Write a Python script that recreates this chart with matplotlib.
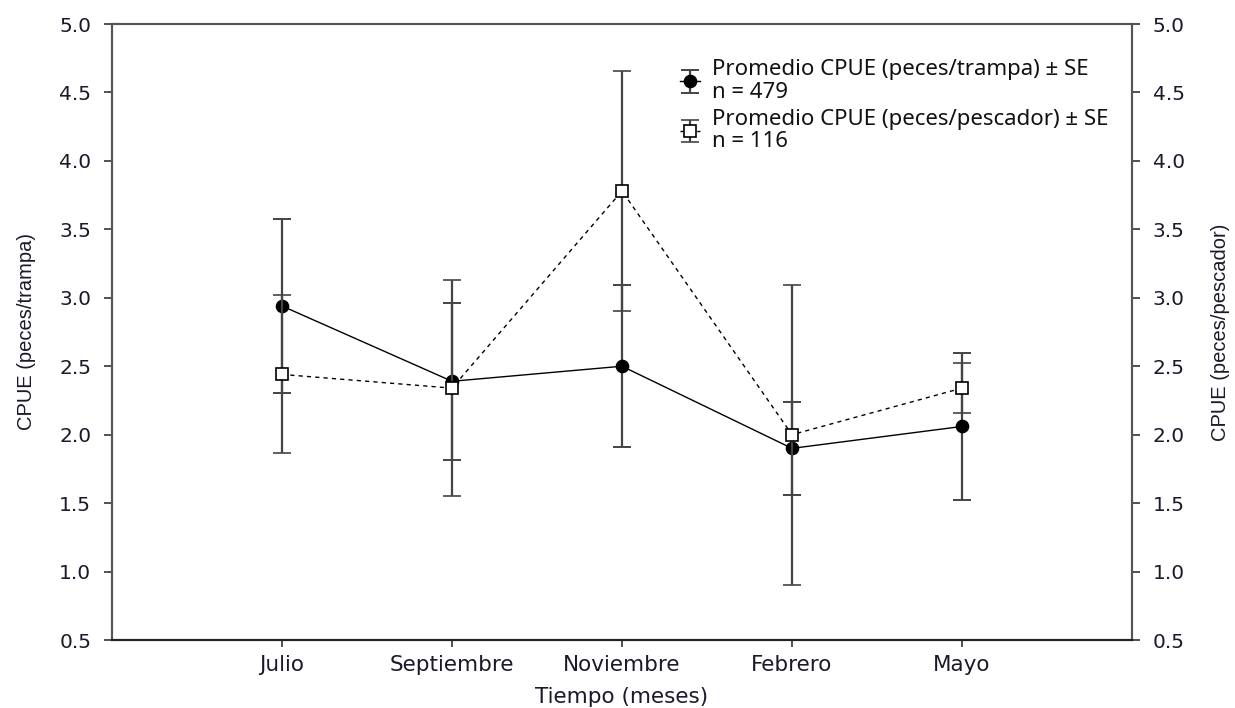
import matplotlib
matplotlib.use("Agg")
import matplotlib.pyplot as plt

months = ["Julio", "Septiembre", "Noviembre", "Febrero", "Mayo"]
trampa_mean = [2.94, 2.39, 2.50, 1.90, 2.06]
trampa_se = [0.635, 0.575, 0.59, 0.34, 0.537]
pescador_mean = [2.44, 2.34, 3.78, 2.00, 2.34]
pescador_se = [0.577, 0.79, 0.88, 1.096, 0.18]
label_trampa = "Promedio CPUE (peces/trampa) ± SE\nn = 479"
label_pescador = "Promedio CPUE (peces/pescador) ± SE\nn = 116"
yticks = [0.5, 1.0, 1.5, 2.0, 2.5, 3.0, 3.5, 4.0, 4.5, 5.0]

plt.rcParams['font.family'] = ['DejaVu Sans']

fig = plt.figure(figsize=(12.35, 7.08), dpi=100)
ax = fig.add_axes([112/1235, 1-640/708, (1132-112)/1235, (640-24)/708])
ax2 = ax.twinx()

x = list(range(1, len(months) + 1))
ecol = "#444444"
tcol = "#1a1a2a"

h1 = ax.errorbar(x, trampa_mean, yerr=trampa_se, fmt='o', color='black',
                 markersize=8.8, ls='-', lw=1.0, ecolor=ecol, elinewidth=1.6,
                 capsize=6.5, capthick=1.4, label=label_trampa, zorder=3)
h2 = ax2.errorbar(x, pescador_mean, yerr=pescador_se, fmt='s', color='black',
                  markerfacecolor='white', markeredgecolor='black', markeredgewidth=1.2,
                  markersize=8, ls=(0, (3, 3)), lw=1.0, ecolor=ecol, elinewidth=1.6,
                  capsize=6.5, capthick=1.4, label=label_pescador, zorder=3)

for a in (ax, ax2):
    a.set_ylim(0.5, 5.0)
    a.set_yticks(yticks)
    a.set_yticklabels([f"{v:.1f}" for v in yticks])
    a.set_xlim(0, len(months) + 1)
    for s in a.spines.values():
        s.set_color("#555555")
        s.set_linewidth(1.5)
    a.spines['bottom'].set_color("#222222")
    a.tick_params(axis='y', direction='out', length=6, width=1.2, colors="#333333",
                  labelsize=14.5, labelcolor=tcol, pad=9)

ax.set_xticks(x)
ax.set_xticklabels(months)
ax.tick_params(axis='x', direction='out', length=5, width=1.2, colors="#333333",
               labelsize=15.5, labelcolor=tcol, pad=6)

ax.set_ylabel("CPUE (peces/trampa)", fontsize=14.5, color=tcol,
              family='Liberation Sans')
ax2.set_ylabel("CPUE (peces/pescador)", fontsize=14.5, color=tcol,
               family='Liberation Sans')
ax.yaxis.set_label_coords(-0.0745, 0.5)
ax2.yaxis.set_label_coords(1.077, 0.5)
ax.set_xlabel("Tiempo (meses)", fontsize=15.5, color=tcol)
ax.xaxis.set_label_coords(0.5, -0.0925)
ax.xaxis.label.set_va('center')

leg = ax2.legend(handles=[h1, h2], loc='upper left', bbox_to_anchor=(0.548, 0.957),
                 frameon=False, prop={'family': 'Noto Sans', 'size': 16},
                 handlelength=0.9, handletextpad=0.55, labelspacing=0.26,
                 borderaxespad=0)
for t in leg.get_texts():
    t.set_linespacing(1.1)
    t.set_color("#111111")

fig.savefig("out.png", dpi=100)
